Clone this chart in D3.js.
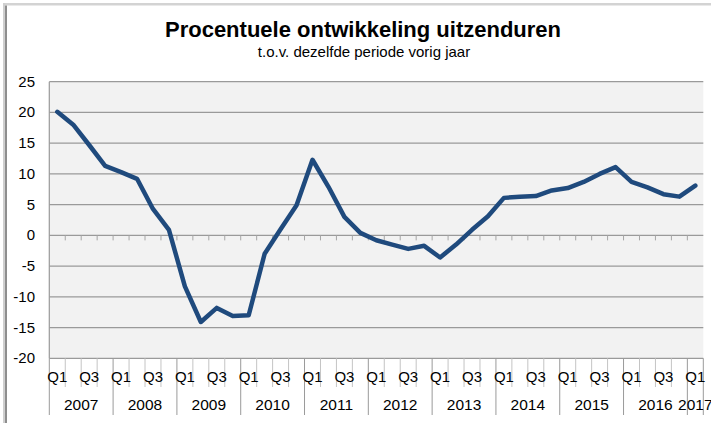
<!DOCTYPE html>
<html>
<head>
<meta charset="utf-8">
<script src="https://cdn.jsdelivr.net/npm/d3@7"></script>
<style>
  body { margin: 0; background: #fff; }
  text { font-family: Arial, "Liberation Sans", sans-serif; fill: #000; }
</style>
</head>
<body>
<div id="chart"></div>
<script>
(function() {

var years = ["2007", "2008", "2009", "2010", "2011", "2012", "2013", "2014", "2015", "2016", "2017"];
var quarters = ["Q1", "Q2", "Q3", "Q4"];
var yTicks = [-20, -15, -10, -5, 0, 5, 10, 15, 20, 25];

// % change vs same quarter previous year, 2007 Q1 .. 2017 Q1
var values = [
  20.1, 18.0, 14.7, 11.3,
  10.3, 9.2, 4.3, 0.9,
  -8.3, -14.1, -11.8, -13.1,
  -13.0, -3.0, 1.0, 4.9,
  12.3, 7.9, 3.0, 0.4,
  -0.8, -1.5, -2.2, -1.7,
  -3.6, -1.5, 0.9, 3.1,
  6.1, 6.3, 6.4, 7.3,
  7.7, 8.7, 10.0, 11.1,
  8.7, 7.8, 6.7, 6.3,
  8.1
];

// build category keys, e.g. "2007|Q1"
var cats = [];
years.forEach(function(yr) {
  quarters.forEach(function(q) {
    if (cats.length < values.length) cats.push({year: yr, q: q, key: yr + "|" + q});
  });
});

var data = cats.map(function(c, i) { return {key: c.key, year: c.year, q: c.q, value: values[i]}; });

var W = 711, H = 423;
var left = 49.3, right = 703.3, top = 81.7, bottom = 358.3;

var svg = d3.select("#chart").append("svg")
    .attr("width", W)
    .attr("height", H);

// outer frame (only top and left visible)
svg.append("rect").attr("x", 3).attr("y", 3).attr("width", W - 3).attr("height", 2.5).attr("fill", "#d3d3d3");
svg.append("rect").attr("x", 3).attr("y", 3).attr("width", 2).attr("height", H - 3).attr("fill", "#cfcfcf");
svg.append("rect").attr("x", 5).attr("y", 5.5).attr("width", 2).attr("height", H - 5.5).attr("fill", "#8e8e8e");

var x = d3.scaleBand()
    .domain(data.map(function(d) { return d.key; }))
    .range([left, right])
    .padding(0);

var y = d3.scaleLinear()
    .domain([-20, 25])
    .range([bottom, top]);

var bw = x.bandwidth();

// plot background
svg.append("rect")
    .attr("x", left)
    .attr("y", top)
    .attr("width", right - left)
    .attr("height", bottom - top)
    .attr("fill", "#f2f2f2");

// gridlines
svg.selectAll(".grid")
    .data(yTicks)
  .enter().append("line")
    .attr("class", "grid")
    .attr("x1", left)
    .attr("x2", right)
    .attr("y1", function(d) { return y(d); })
    .attr("y2", function(d) { return y(d); })
    .attr("stroke", "#9a9a9a")
    .attr("stroke-width", 1.2);

// y axis line
svg.append("line")
    .attr("x1", left).attr("x2", left)
    .attr("y1", top).attr("y2", bottom)
    .attr("stroke", "#9a9a9a")
    .attr("stroke-width", 1.2);

// y tick labels
svg.selectAll(".ylab")
    .data(yTicks)
  .enter().append("text")
    .attr("class", "ylab")
    .attr("x", 35)
    .attr("y", function(d) { return y(d) + 5; })
    .attr("text-anchor", "end")
    .style("font-size", "15px")
    .text(function(d) { return d; });

// small ticks on the zero line at category boundaries
svg.selectAll(".zt")
    .data(data.slice(1))
  .enter().append("line")
    .attr("class", "zt")
    .attr("x1", function(d) { return x(d.key); })
    .attr("x2", function(d) { return x(d.key); })
    .attr("y1", y(0))
    .attr("y2", y(0) + 5)
    .attr("stroke", "#a6a6a6")
    .attr("stroke-width", 1);

// category separators below the plot
var bounds = data.map(function(d, i) { return {x: x(d.key), yearStart: i % 4 === 0}; });
bounds.push({x: right, yearStart: true});

svg.selectAll(".sep")
    .data(bounds)
  .enter().append("line")
    .attr("class", "sep")
    .attr("x1", function(d) { return d.x; })
    .attr("x2", function(d) { return d.x; })
    .attr("y1", bottom)
    .attr("y2", function(d) { return d.yearStart ? 415 : 387; })
    .attr("stroke", function(d) { return d.yearStart ? "#9a9a9a" : "#c4c4c4"; })
    .attr("stroke-width", 1);

// quarter labels (Q1 and Q3 only)
svg.selectAll(".qlab")
    .data(data.filter(function(d) { return d.q === "Q1" || d.q === "Q3"; }))
  .enter().append("text")
    .attr("class", "qlab")
    .attr("x", function(d) { return x(d.key) + bw / 2; })
    .attr("y", 382)
    .attr("text-anchor", "middle")
    .style("font-size", "15px")
    .text(function(d) { return d.q; });

// year labels centred on their quarters
var yearPos = years.map(function(yr) {
  var ks = data.filter(function(d) { return d.year === yr; });
  var x0 = x(ks[0].key), x1 = x(ks[ks.length - 1].key) + bw;
  return {year: yr, cx: (x0 + x1) / 2};
});

svg.selectAll(".yrlab")
    .data(yearPos)
  .enter().append("text")
    .attr("class", "yrlab")
    .attr("x", function(d) { return d.cx; })
    .attr("y", 410)
    .attr("text-anchor", "middle")
    .style("font-size", "15.5px")
    .text(function(d) { return d.year; });

// the line
var line = d3.line()
    .x(function(d) { return x(d.key) + bw / 2; })
    .y(function(d) { return y(d.value); });

svg.append("path")
    .datum(data)
    .attr("d", line)
    .attr("fill", "none")
    .attr("stroke", "#1f4a7d")
    .attr("stroke-width", 4.5)
    .attr("stroke-linejoin", "round")
    .attr("stroke-linecap", "round");

// titles
svg.append("text")
    .attr("x", 363)
    .attr("y", 37)
    .attr("text-anchor", "middle")
    .style("font-size", "22px")
    .style("font-weight", "bold")
    .text("Procentuele ontwikkeling uitzenduren");

svg.append("text")
    .attr("x", 364)
    .attr("y", 57)
    .attr("text-anchor", "middle")
    .style("font-size", "15px")
    .text("t.o.v. dezelfde periode vorig jaar");

})();
</script>
</body>
</html>
